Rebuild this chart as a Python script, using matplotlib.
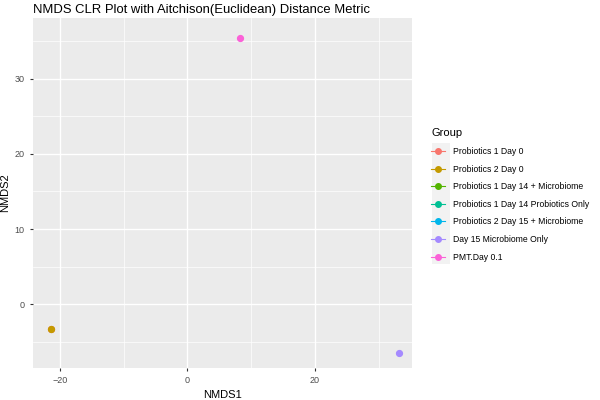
import matplotlib.pyplot as plt
from matplotlib.lines import Line2D
from matplotlib.patches import Rectangle
from matplotlib.ticker import MultipleLocator

plt.rcParams['font.family'] = ['Liberation Sans', 'DejaVu Sans']

groups = ['Probiotics 1 Day 0', 'Probiotics 2 Day 0', 'Probiotics 1 Day 14 + Microbiome',
          'Probiotics 1 Day 14 Probiotics Only', 'Probiotics 2 Day 15 + Microbiome',
          'Day 15 Microbiome Only', 'PMT.Day 0.1']
colors = ['#F8766D', '#C49A00', '#53B400', '#00C094', '#00B6EB', '#A58AFF', '#FB61D7']
nmds1 = [[-21.4], [-21.4], [], [], [], [33.1], [8.2]]
nmds2 = [[-3.3], [-3.3], [], [], [], [-6.5], [35.4]]

fig = plt.figure(figsize=(6, 4), dpi=100)
ax = fig.add_axes([33 / 600, 32 / 400, 379 / 600, 350 / 400])
ax.set_facecolor('#EBEBEB')

for g, c, xs, ys in zip(groups, colors, nmds1, nmds2):
    ax.plot(xs, ys, 'o', color=c, markersize=4.2, zorder=3)

ax.set_xlim(-24.2, 35.2)
ax.set_ylim(-8.5, 38.1)

ax.xaxis.set_major_locator(MultipleLocator(20))
ax.xaxis.set_minor_locator(MultipleLocator(10))
ax.yaxis.set_major_locator(MultipleLocator(10))
ax.yaxis.set_minor_locator(MultipleLocator(5))
ax.grid(which='major', color='white', linewidth=1.0)
ax.grid(which='minor', color='white', linewidth=0.5)
ax.set_axisbelow(True)
for s in ax.spines.values():
    s.set_visible(False)
ax.tick_params(which='major', colors='#333333', labelsize=6.5, length=2.5, width=0.8)
ax.tick_params(which='major', labelcolor='#4D4D4D')
ax.tick_params(which='minor', length=0)

ax.set_xlabel('NMDS1', fontsize=8, labelpad=3)
ax.set_ylabel('NMDS2', fontsize=8, labelpad=3)
fig.text(33 / 600, 1 - 10 / 400, 'NMDS CLR Plot with Aitchison(Euclidean) Distance Metric',
         fontsize=9.4, ha='left', va='center')

# legend
fig.patches.append(Rectangle((432 / 600, 1 - 264 / 400), 18 / 600, 121 / 400,
                             transform=fig.transFigure, facecolor='#F2F2F2',
                             edgecolor='none', zorder=0))
handles = [Line2D([], [], color=c, marker='o', markersize=4, linewidth=0.8) for c in colors]
leg = fig.legend(handles, groups, title='Group', loc='upper left',
                 bbox_to_anchor=(428 / 600, 1 - 125 / 400), frameon=False,
                 fontsize=6.2, title_fontsize=8, handlelength=1.6, handletextpad=0.95,
                 labelspacing=1.0, borderaxespad=0)
leg._legend_box.align = 'left'

fig.savefig('out.png', dpi=100)
